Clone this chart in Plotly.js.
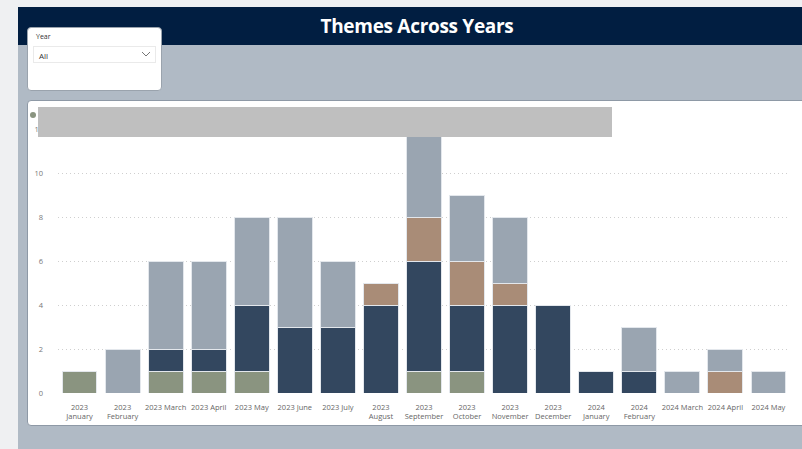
<!DOCTYPE html>
<html>
<head>
<meta charset="utf-8">
<script src="https://cdn.plot.ly/plotly-3.0.1.min.js"></script>
<style>
  html, body { margin:0; padding:0; width:802px; height:449px; overflow:hidden; background:#eff0f2; font-family:"Open Sans", "Noto Sans", sans-serif; }
  #bg { position:absolute; left:18px; top:45px; width:784px; height:404px; background:#b0bac5; }
  #header { position:absolute; left:18px; top:7px; width:784px; height:38px; background:#011e41; color:#fff; }
  #header span { position:absolute; left:0; width:798px; top:6px; text-align:center; font-weight:700; font-size:19px; font-family:"Open Sans", sans-serif; letter-spacing:-0.3px; }
  #slicer { position:absolute; left:27px; top:27px; width:135px; height:64px; background:#fff; border-radius:4px; border:1px solid #9aa3ad; box-sizing:border-box; }
  #slicer .lab { position:absolute; left:8px; top:4px; font-size:7px; color:#333; }
  #slicer .dd { position:absolute; left:5px; top:18px; width:123px; height:17px; border:1px solid #eaeaea; box-sizing:border-box; }
  #slicer .dd span { position:absolute; left:5px; top:3px; font-size:8px; color:#333; }
  #slicer .dd svg { position:absolute; right:4px; top:4px; }
  #card { position:absolute; left:27px; top:100px; width:790px; height:326px; background:#fff; border-radius:4px; border:1px solid #8e99a6; box-sizing:border-box; }
  #chart { position:absolute; left:0; top:0; width:802px; height:449px; }
  #redact { position:absolute; left:38px; top:107px; width:574px; height:30px; background:#bfbfbf; }
  #dot { position:absolute; left:30px; top:112px; width:6px; height:6px; border-radius:3px; background:#8a9480; }
</style>
</head>
<body>
<div id="bg"></div>
<div id="header"><span>Themes Across Years</span></div>
<div id="slicer">
  <div class="lab">Year</div>
  <div class="dd"><span>All</span>
    <svg width="10" height="7" viewBox="0 0 10 7"><polyline points="1,1 5,5 9,1" fill="none" stroke="#666" stroke-width="0.9"/></svg>
  </div>
</div>
<div id="card"></div>
<div id="chart"></div>
<div id="dot"></div>
<div id="redact"></div>
<script>
const categories = ["2023 January","2023 February","2023 March","2023 April","2023 May","2023 June","2023 July","2023 August","2023 September","2023 October","2023 November","2023 December","2024 January","2024 February","2024 March","2024 April","2024 May"];
const tickLabels = ["2023<br>January","2023<br>February","2023 March","2023 April","2023 May","2023 June","2023 July","2023<br>August","2023<br>September","2023<br>October","2023<br>November","2023<br>December","2024<br>January","2024<br>February","2024 March","2024 April","2024 May"];
const themeA = [1,0,1,1,1,0,0,0,1,1,0,0,0,0,0,0,0];
const themeB = [0,0,1,1,3,3,3,4,5,3,4,4,1,1,0,0,0];
const themeC = [0,0,0,0,0,0,0,1,2,2,1,0,0,0,0,1,0];
const themeD = [0,2,4,4,4,5,3,0,4,3,3,0,0,2,1,1,1];
const seriesNames = ["Theme A","Theme B","Theme C","Theme D"];
const seriesColors = ["#8a9480","#33475f","#a98c77","#9aa5b1"];
const seriesValues = [themeA, themeB, themeC, themeD];

const traces = seriesValues.map((v, i) => ({
  type: "bar",
  name: seriesNames[i],
  x: categories,
  y: v.map(n => n === 0 ? null : n),
  marker: { color: seriesColors[i], line: { color: "#e3e7ec", width: 1 } },
  hoverinfo: "x+y+name"
}));

const layout = {
  width: 802, height: 449,
  barmode: "stack",
  bargap: 0.19,
  showlegend: false,
  paper_bgcolor: "rgba(0,0,0,0)",
  plot_bgcolor: "rgba(0,0,0,0)",
  margin: { l: 58, r: 12, t: 129, b: 56, pad: 0 },
  font: { family: "Open Sans, sans-serif", size: 8, color: "#666" },
  xaxis: {
    type: "category",
    tickmode: "array", tickvals: categories, ticktext: tickLabels,
    showgrid: false, zeroline: false, showline: false, ticks: "",
    tickfont: { size: 7.5, color: "#666" }, tickangle: 0,
    ticklabelstandoff: 8
  },
  yaxis: {
    range: [0, 12],
    tickvals: [0, 2, 4, 6, 8, 10, 12],
    showgrid: true, gridcolor: "#cfcfcf", griddash: "1px,3px", gridwidth: 1,
    zeroline: false, showline: false, ticks: "",
    tickfont: { size: 7.5, color: "#777" },
    ticklabelstandoff: 14
  }
};

Plotly.newPlot("chart", traces, layout, { displayModeBar: false, staticPlot: true });
</script>
</body>
</html>
